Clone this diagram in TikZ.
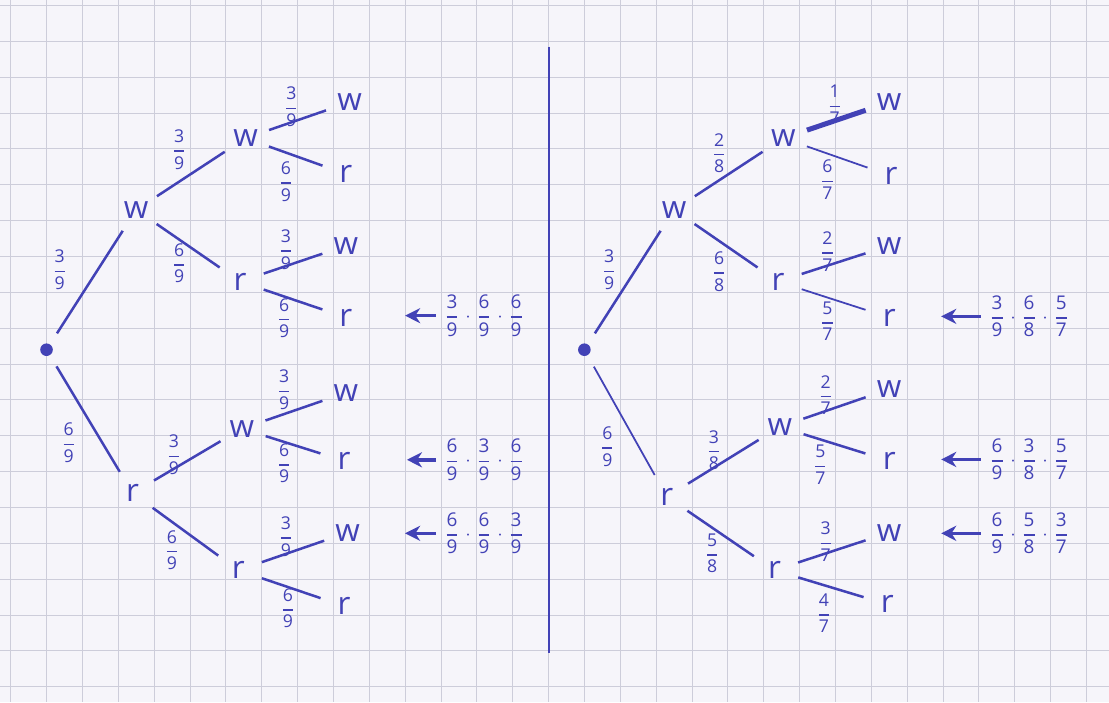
\documentclass[tikz,border=0pt]{standalone}
\usepackage{amsmath}
\usepackage{fontspec}
\setmainfont{Open Sans}
\usetikzlibrary{arrows.meta}
\definecolor{pen}{RGB}{66,66,182}
\definecolor{paper}{RGB}{246,245,250}
\definecolor{gridcol}{RGB}{205,205,218}
\newcommand{\hfr}[2]{\genfrac{}{}{0.6pt}{0}{\text{#1}}{\text{#2}}}

\begin{document}
\begin{tikzpicture}[x=0.5cm, y=-0.5cm,
    grd/.style={gridcol, line width=0.35pt},
    lt/.style={circle, inner sep=0pt, minimum size=0.68cm, text=pen,
               font=\fontsize{12.5}{14}\selectfont},
    lab/.style={inner sep=0pt, text=pen, font=\fontsize{7}{8}\selectfont},
    prod/.style={anchor=west, inner sep=3pt, text=pen, font=\fontsize{7.5}{8}\selectfont},
    dot/.style={circle, fill=pen, inner sep=0pt, minimum size=5pt},
    br/.style={pen, line width=1pt},
    fromroot/.style={br, shorten <=5pt},
    pt/.style={pen, line width=1.4pt, -{Stealth[length=6pt, width=6pt]}}
  ]
  % paper
  \useasboundingbox[fill=paper] (-1.297,-0.153) rectangle (29.63,19.43);
  \foreach \i in {-1,...,29} \draw[grd] (\i,-0.153) -- (\i,19.43);
  \foreach \j in {0,...,19} \draw[grd] (-1.297,\j) -- (29.63,\j);

  % divider
  \coordinate (top) at (14,1.15);
  \coordinate (bot) at (14,18.05);
  \draw[pen, line width=0.8pt] (top) -- (bot);

  % left tree
  \node[dot] (mroot) at (0,9.6) {};
  \node[lt] (mw) at (2.5,5.7) {w};
  \node[lt] (mr) at (2.4,13.6) {r};
  \node[lt] (mww) at (5.55,3.7) {w};
  \node[lt] (mwr) at (5.4,7.7) {r};
  \node[lt] (mrw) at (5.45,11.8) {w};
  \node[lt] (mrr) at (5.35,15.75) {r};
  \node[lt] (mwww) at (8.45,2.7) {w};
  \node[lt] (mwwr) at (8.35,4.7) {r};
  \node[lt] (mwrw) at (8.35,6.7) {w};
  \node[lt] (mwrr) at (8.35,8.7) {r};
  \node[lt] (mrww) at (8.35,10.8) {w};
  \node[lt] (mrwr) at (8.3,12.7) {r};
  \node[lt] (mrrw) at (8.4,14.7) {w};
  \node[lt] (mrrr) at (8.3,16.75) {r};
  \draw[fromroot] (mroot) -- (mw);
  \draw[fromroot] (mroot) -- (mr);
  \draw[br] (mw) -- (mww);
  \draw[br] (mw) -- (mwr);
  \draw[br] (mr) -- (mrw);
  \draw[br] (mr) -- (mrr);
  \draw[br] (mww) -- (mwww);
  \draw[br] (mww) -- (mwwr);
  \draw[br] (mwr) -- (mwrw);
  \draw[br] (mwr) -- (mwrr);
  \draw[br] (mrw) -- (mrww);
  \draw[br] (mrw) -- (mrwr);
  \draw[br] (mrr) -- (mrrw);
  \draw[br] (mrr) -- (mrrr);
  \node[lab] (ml1) at (0.37,7.37) {$\hfr{3}{9}$};
  \node[lab] (ml2) at (0.62,12.2) {$\hfr{6}{9}$};
  \node[lab] (ml3) at (3.7,4.02) {$\hfr{3}{9}$};
  \node[lab] (ml4) at (3.7,7.19) {$\hfr{6}{9}$};
  \node[lab] (ml5) at (3.55,12.53) {$\hfr{3}{9}$};
  \node[lab] (ml6) at (3.5,15.19) {$\hfr{6}{9}$};
  \node[lab] (ml7) at (6.83,2.83) {$\hfr{3}{9}$};
  \node[lab] (ml8) at (6.68,4.91) {$\hfr{6}{9}$};
  \node[lab] (ml9) at (6.68,6.81) {$\hfr{3}{9}$};
  \node[lab] (ml10) at (6.63,8.72) {$\hfr{6}{9}$};
  \node[lab] (ml11) at (6.63,10.72) {$\hfr{3}{9}$};
  \node[lab] (ml12) at (6.63,12.77) {$\hfr{6}{9}$};
  \node[lab] (ml13) at (6.68,14.81) {$\hfr{3}{9}$};
  \node[lab] (ml14) at (6.73,16.81) {$\hfr{6}{9}$};
  % products, left
  \node[prod] (mq1) at (10.85,8.65) {$\hfr{3}{9}\cdot\hfr{6}{9}\cdot\hfr{6}{9}$};
  \node[prod] (mq2) at (10.85,12.67) {$\hfr{6}{9}\cdot\hfr{3}{9}\cdot\hfr{6}{9}$};
  \node[prod] (mq3) at (10.85,14.72) {$\hfr{6}{9}\cdot\hfr{6}{9}\cdot\hfr{3}{9}$};
  \coordinate (ma1) at (10.0,8.65);
  \coordinate (ma2) at (10.05,12.67);
  \coordinate (ma3) at (10.0,14.72);
  \draw[pt] (mq1.west) -- (ma1);
  \draw[pt] (mq2.west) -- (ma2);
  \draw[pt] (mq3.west) -- (ma3);

  % right tree
  \node[dot] (oroot) at (15,9.6) {};
  \node[lt] (ow) at (17.5,5.7) {w};
  \node[lt] (or) at (17.3,13.7) {r};
  \node[lt] (oww) at (20.55,3.7) {w};
  \node[lt] (owr) at (20.4,7.7) {r};
  \node[lt] (orw) at (20.45,11.75) {w};
  \node[lt] (orr) at (20.3,15.75) {r};
  \node[lt] (owww) at (23.5,2.7) {w};
  \node[lt] (owwr) at (23.55,4.75) {r};
  \node[lt] (owrw) at (23.5,6.7) {w};
  \node[lt] (owrr) at (23.5,8.7) {r};
  \node[lt] (orww) at (23.5,10.7) {w};
  \node[lt] (orwr) at (23.5,12.7) {r};
  \node[lt] (orrw) at (23.5,14.7) {w};
  \node[lt] (orrr) at (23.45,16.7) {r};
  \draw[fromroot] (oroot) -- (ow);
  \draw[fromroot, line width=0.7pt] (oroot) -- (or);
  \draw[br] (ow) -- (oww);
  \draw[br] (ow) -- (owr);
  \draw[br] (or) -- (orw);
  \draw[br] (or) -- (orr);
  \draw[br, line width=2pt] (oww) -- (owww);
  \draw[br, line width=0.7pt] (oww) -- (owwr);
  \draw[br] (owr) -- (owrw);
  \draw[br, line width=0.7pt] (owr) -- (owrr);
  \draw[br] (orw) -- (orww);
  \draw[br] (orw) -- (orwr);
  \draw[br] (orr) -- (orrw);
  \draw[br] (orr) -- (orrr);
  \node[lab] (ol1) at (15.69,7.37) {$\hfr{3}{9}$};
  \node[lab] (ol2) at (15.64,12.3) {$\hfr{6}{9}$};
  \node[lab] (ol3) at (18.76,4.12) {$\hfr{2}{8}$};
  \node[lab] (ol4) at (18.76,7.42) {$\hfr{6}{8}$};
  \node[lab] (ol5) at (18.61,12.4) {$\hfr{3}{8}$};
  \node[lab] (ol6) at (18.56,15.28) {$\hfr{5}{8}$};
  \node[lab] (ol7) at (21.98,2.77) {$\hfr{1}{7}$};
  \node[lab] (ol8) at (21.78,4.86) {$\hfr{6}{7}$};
  \node[lab] (ol9) at (21.78,6.86) {$\hfr{2}{7}$};
  \node[lab] (ol10) at (21.78,8.81) {$\hfr{5}{7}$};
  \node[lab] (ol11) at (21.73,10.86) {$\hfr{2}{7}$};
  \node[lab] (ol12) at (21.58,12.81) {$\hfr{5}{7}$};
  \node[lab] (ol13) at (21.73,14.95) {$\hfr{3}{7}$};
  \node[lab] (ol14) at (21.68,16.95) {$\hfr{4}{7}$};
  % products, right
  \node[prod] (oq1) at (26.05,8.67) {$\hfr{3}{9}\cdot\hfr{6}{8}\cdot\hfr{5}{7}$};
  \node[prod] (oq2) at (26.05,12.66) {$\hfr{6}{9}\cdot\hfr{3}{8}\cdot\hfr{5}{7}$};
  \node[prod] (oq3) at (26.05,14.72) {$\hfr{6}{9}\cdot\hfr{5}{8}\cdot\hfr{3}{7}$};
  \coordinate (oa1) at (24.95,8.67);
  \coordinate (oa2) at (24.95,12.66);
  \coordinate (oa3) at (24.95,14.72);
  \draw[pt, line width=1pt] (oq1.west) -- (oa1);
  \draw[pt] (oq2.west) -- (oa2);
  \draw[pt] (oq3.west) -- (oa3);
\end{tikzpicture}
\end{document}
